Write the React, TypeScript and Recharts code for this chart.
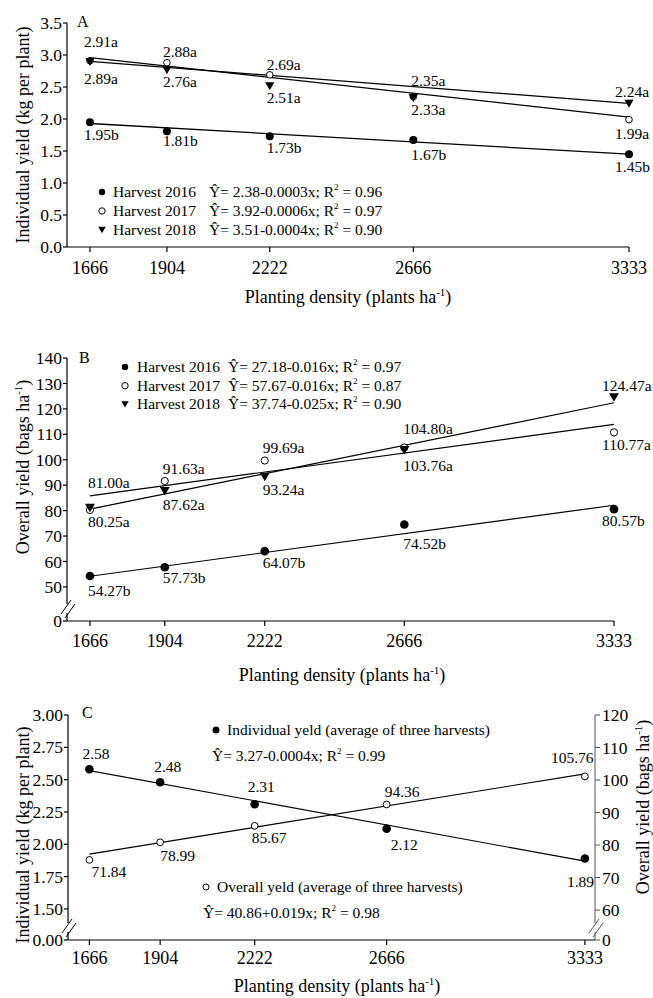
import React from 'react';
import { ComposedChart, Line, XAxis, YAxis, Legend, LabelList, Label } from 'recharts';

const SERIF = '"Liberation Serif", "Times New Roman", serif';
const W = 653;

// planting density (plants ha-1)
const density = [1666, 1904, 2222, 2666, 3333];
const fitEnds = [1666, 3333];

// A - individual yield (kg per plant)
const indiv2016 = [1.95, 1.81, 1.73, 1.67, 1.45];
const indiv2017 = [2.91, 2.88, 2.69, 2.35, 1.99];
const indiv2018 = [2.89, 2.76, 2.51, 2.33, 2.24];
const indivFit2016 = [1.93, 1.45];
const indivFit2017 = [2.96, 2.03];
const indivFit2018 = [2.9, 2.245];

// B - overall yield (bags ha-1)
const overall2016 = [54.27, 57.73, 64.07, 74.52, 80.57];
const overall2017 = [80.25, 91.63, 99.69, 104.8, 110.77];
const overall2018 = [81.0, 87.62, 93.24, 103.76, 124.47];
const overallFit2016 = [54.2, 82.1];
const overallFit2017 = [85.8, 113.9];
const overallFit2018 = [80.6, 122.4];

// C - average of three harvests
const indivMean = [2.58, 2.48, 2.31, 2.12, 1.89];
const overallMean = [71.84, 78.99, 85.67, 94.36, 105.76];
const indivMeanFit = [2.57, 1.87];
const overallMeanFit = [74.2, 106.8];

const harvests = ['Harvest 2016', 'Harvest 2017', 'Harvest 2018'];
const eqA = ['Ŷ= 2.38-0.0003x; R', 'Ŷ= 3.92-0.0006x; R', 'Ŷ= 3.51-0.0004x; R'];
const r2A = ['0.96', '0.97', '0.90'];
const eqB = ['Ŷ= 27.18-0.016x; R', 'Ŷ= 57.67-0.016x; R', 'Ŷ= 37.74-0.025x; R'];
const r2B = ['0.97', '0.87', '0.90'];
const meanNames = ['Individual yeld (average of three harvests)', 'Overall yeld (average of three harvests)'];
const eqC = ['Ŷ= 3.27-0.0004x; R', 'Ŷ= 40.86+0.019x; R'];
const r2C = ['0.99', '0.98'];

// tick values; the lowest one sits under the axis break and reads as 0
const ticksA = [0, 0.5, 1, 1.5, 2, 2.5, 3, 3.5];
const breakB = 36.6;
const ticksB = [breakB, 50, 60, 70, 80, 90, 100, 110, 120, 130, 140];
const breakCL = 1.26;
const ticksCL = [breakCL, 1.5, 1.75, 2, 2.25, 2.5, 2.75, 3];
const breakCR = 50.8;
const ticksCR = [breakCR, 60, 70, 80, 90, 100, 110, 120];

const toPoints = (xs: number[], ys: number[]) => xs.map((x, i) => ({ x, y: ys[i] }));

type Kind = 'filled' | 'open' | 'tri';
const kinds: Kind[] = ['filled', 'open', 'tri'];

function Marker({ kind, cx, cy, r }: { kind: Kind; cx: number; cy: number; r: number }) {
  if (kind === 'filled') return <circle cx={cx} cy={cy} r={r} fill="#000" />;
  if (kind === 'open') return <circle cx={cx} cy={cy} r={r} fill="#fff" stroke="#000" strokeWidth={1} />;
  return <polygon points={`${cx - r * 1.15},${cy - r} ${cx + r * 1.15},${cy - r} ${cx},${cy + r}`} fill="#000" />;
}

const dotFor = (kind: Kind, r: number) => (p: any) =>
  p.cx == null ? <g key={p.index} /> : <Marker key={p.index} kind={kind} cx={p.cx} cy={p.cy} r={r} />;

const labelFor = (values: number[], suffix: string, dx: number[], dy: number[]) => (p: any) => {
  const i = p.index ?? values.indexOf(Number(p.value));
  const x = p.x ?? p.viewBox?.x;
  const y = p.y ?? p.viewBox?.y;
  if (x == null || i < 0) return null;
  return (
    <text key={i} x={x + dx[i]} y={y + dy[i]} fontFamily={SERIF} fontSize={15.5} fill="#000">
      {Number(p.value).toFixed(2)}
      {suffix}
    </text>
  );
};

function AxisTick(props: any) {
  const { x, y, payload, side, breakAt, breakLabel, digits, gap, lineColor } = props;
  const v = Number(payload.value);
  const isBreak = breakAt != null && Math.abs(v - breakAt) < 1e-9;
  const label = isBreak ? breakLabel : v.toFixed(digits);
  const ax = side === 'left' ? x + gap : x - gap;
  return (
    <g>
      {isBreak && (
        <g>
          <rect x={ax - 2} y={y - 17} width={4} height={9} fill="#fff" />
          <line x1={ax - 6} y1={y - 7} x2={ax + 4} y2={y - 21} stroke={lineColor} strokeWidth={1} />
          <line x1={ax - 2} y1={y - 3} x2={ax + 8} y2={y - 17} stroke={lineColor} strokeWidth={1} />
        </g>
      )}
      <text x={x} y={y} dy="0.35em" textAnchor={side === 'left' ? 'end' : 'start'} fontFamily={SERIF} fontSize={17.5} fill="#000">
        {label}
      </text>
    </g>
  );
}

const xTitle = (cx: number, base: number) => () => (
  <text x={cx} y={base} textAnchor="middle" fontFamily={SERIF} fontSize={18} fill="#000">
    Planting density (plants ha<tspan fontSize={11} dy={-7}>-1</tspan>
    <tspan dy={7}>)</tspan>
  </text>
);

const yTitle = (cx: number, cy: number, text: string, sup?: string) => () => (
  <text transform={`rotate(-90 ${cx} ${cy})`} x={cx} y={cy} dy="0.35em" textAnchor="middle" fontFamily={SERIF} fontSize={18} fill="#000">
    {text}
    {sup && (
      <>
        <tspan fontSize={11} dy={-7}>{sup}</tspan>
        <tspan dy={7}>)</tspan>
      </>
    )}
  </text>
);

const axisStyle = { stroke: '#000', strokeWidth: 1.2 };
const xTick = { fontSize: 18, fontFamily: SERIF, fill: '#000' };

function EqText({ x, y, eq, r2, size }: { x: number; y: number; eq: string; r2: string; size: number }) {
  return (
    <text x={x} y={y} fontFamily={SERIF} fontSize={size} fill="#000">
      {eq}
      <tspan fontSize={9} dy={-7}>2</tspan>
      <tspan dy={7}> = {r2}</tspan>
    </text>
  );
}

const legendWrap = (h: number) => ({ left: 0, top: 0, width: W, height: h, pointerEvents: 'none' as const });

function PanelA() {
  const H = 310;
  const series = [
    { v: indiv2016, fit: indivFit2016, s: 'b', r: 4, dy: [18, 15, 17, 20, 18] },
    { v: indiv2017, fit: indivFit2017, s: 'a', r: 3.3, dy: [-14, -6, -5, -11, 19] },
    { v: indiv2018, fit: indivFit2018, s: 'a', r: 4, dy: [22, 17, 17, 17, -7] },
  ];
  const dx = [-6, -4, -3, -2, -14];
  return (
    <ComposedChart width={W} height={H} margin={{ top: 23, right: 24, bottom: 0, left: 0 }}>
      <XAxis dataKey="x" type="number" domain={[1595, 3333]} ticks={density} interval={0} height={63}
        tickSize={5} tickMargin={9} tick={xTick} axisLine={axisStyle} tickLine={axisStyle}>
        <Label content={xTitle(348, 303)} />
      </XAxis>
      <YAxis type="number" domain={[0, 3.5]} ticks={ticksA} interval={0} width={67} tickSize={4} tickMargin={1}
        axisLine={axisStyle} tickLine={axisStyle}
        tick={(p: any) => <AxisTick {...p} side="left" digits={1} gap={5} lineColor="#000" />}>
        <Label content={yTitle(23, 135, 'Individual yield (kg per plant)')} />
      </YAxis>
      {series.map((s, k) => (
        <Line key={`f${k}`} data={toPoints(fitEnds, s.fit)} dataKey="y" stroke="#000" strokeWidth={1.3}
          dot={false} activeDot={false} isAnimationActive={false} legendType="none" />
      ))}
      {series.map((s, k) => (
        <Line key={`p${k}`} data={toPoints(density, s.v)} dataKey="y" stroke="none" dot={dotFor(kinds[k], s.r)}
          activeDot={false} isAnimationActive={false} legendType="none">
          <LabelList dataKey="y" content={labelFor(s.v, s.s, dx, s.dy)} />
        </Line>
      ))}
      <Legend layout="vertical" align="center" verticalAlign="middle" wrapperStyle={legendWrap(H)}
        content={() => (
          <svg width={W} height={H} style={{ position: 'absolute', left: 0, top: 0 }}>
            <text x={77} y={27} fontFamily={SERIF} fontSize={16} fill="#000">A</text>
            {harvests.map((h, i) => {
              const yb = 197 + i * 19;
              return (
                <g key={h}>
                  <Marker kind={kinds[i]} cx={102} cy={yb - 5} r={3.2} />
                  <text x={113} y={yb} fontFamily={SERIF} fontSize={15.5} fill="#000">{h}</text>
                  <EqText x={209} y={yb} eq={eqA[i]} r2={r2A[i]} size={15.5} />
                </g>
              );
            })}
          </svg>
        )} />
    </ComposedChart>
  );
}

function PanelB() {
  const H = 380;
  const series = [
    { v: overall2016, fit: overallFit2016, s: 'b', r: 4.3, dy: [20, 16, 17, 24, 17] },
    { v: overall2017, fit: overallFit2017, s: 'a', r: 3.6, dy: [17, -7, -8, -14, 18] },
    { v: overall2018, fit: overallFit2018, s: 'a', r: 4.3, dy: [-20, 19, 18, 21, -7] },
  ];
  const dx = [-2, -2, -2, -1, -12];
  return (
    <ComposedChart width={W} height={H} margin={{ top: 48, right: 39, bottom: 0, left: 0 }}>
      <XAxis dataKey="x" type="number" domain={[1593, 3333]} ticks={density} interval={0} height={69}
        tickSize={5} tickMargin={8} tick={xTick} axisLine={axisStyle} tickLine={axisStyle}>
        <Label content={xTitle(342, 371)} />
      </XAxis>
      <YAxis type="number" domain={[breakB, 140]} ticks={ticksB} interval={0} width={67} tickSize={4} tickMargin={1}
        axisLine={axisStyle} tickLine={axisStyle}
        tick={(p: any) => <AxisTick {...p} side="left" digits={0} gap={5} breakAt={breakB} breakLabel="0" lineColor="#000" />}>
        <Label content={yTitle(23, 157, 'Overall yield (bags ha', '-1')} />
      </YAxis>
      {series.map((s, k) => (
        <Line key={`f${k}`} data={toPoints(fitEnds, s.fit)} dataKey="y" stroke="#000" strokeWidth={1.2}
          dot={false} activeDot={false} isAnimationActive={false} legendType="none" />
      ))}
      {series.map((s, k) => (
        <Line key={`p${k}`} data={toPoints(density, s.v)} dataKey="y" stroke="none" dot={dotFor(kinds[k], s.r)}
          activeDot={false} isAnimationActive={false} legendType="none">
          <LabelList dataKey="y" content={labelFor(s.v, s.s, dx, s.dy)} />
        </Line>
      ))}
      <Legend layout="vertical" align="center" verticalAlign="middle" wrapperStyle={legendWrap(H)}
        content={() => (
          <svg width={W} height={H} style={{ position: 'absolute', left: 0, top: 0 }}>
            <text x={79} y={53} fontFamily={SERIF} fontSize={16} fill="#000">B</text>
            {harvests.map((h, i) => {
              const yb = 62 + i * 18.7;
              return (
                <g key={h}>
                  <Marker kind={kinds[i]} cx={125} cy={yb - 5} r={3.2} />
                  <text x={137} y={yb} fontFamily={SERIF} fontSize={15.5} fill="#000">{h}</text>
                  <EqText x={228} y={yb} eq={eqB[i]} r2={r2B[i]} size={15.5} />
                </g>
              );
            })}
          </svg>
        )} />
    </ComposedChart>
  );
}

function PanelC() {
  const H = 308;
  return (
    <ComposedChart width={W} height={H} margin={{ top: 25, right: 0, bottom: 0, left: 0 }}>
      <XAxis dataKey="x" type="number" domain={[1594, 3367]} ticks={density} interval={0} height={58}
        tickSize={5} tickMargin={6} tick={xTick} axisLine={axisStyle} tickLine={axisStyle}>
        <Label content={xTitle(337, 302)} />
      </XAxis>
      <YAxis yAxisId="ind" type="number" domain={[breakCL, 3]} ticks={ticksCL} interval={0} width={68} tickSize={4} tickMargin={1}
        axisLine={axisStyle} tickLine={axisStyle}
        tick={(p: any) => <AxisTick {...p} side="left" digits={2} gap={5} breakAt={breakCL} breakLabel="0.00" lineColor="#000" />}>
        <Label content={yTitle(23, 145, 'Individual yield (kg per plant)')} />
      </YAxis>
      <YAxis yAxisId="ovr" orientation="right" type="number" domain={[breakCR, 120]} ticks={ticksCR} interval={0} width={58}
        tickSize={5} tickMargin={2} allowDataOverflow axisLine={{ stroke: '#555', strokeWidth: 1 }} tickLine={{ stroke: '#555', strokeWidth: 1 }}
        tick={(p: any) => <AxisTick {...p} side="right" digits={0} gap={7} breakAt={breakCR} breakLabel="0" lineColor="#555" />}>
        <Label content={yTitle(643, 117, 'Overall yield (bags ha', '-1')} />
      </YAxis>
      <YAxis yAxisId="ovrPlot" orientation="right" type="number" domain={[39.3, 130.7]} hide />
      <Line yAxisId="ind" data={toPoints(fitEnds, indivMeanFit)} dataKey="y" stroke="#000" strokeWidth={1.1}
        dot={false} activeDot={false} isAnimationActive={false} legendType="none" />
      <Line yAxisId="ovrPlot" data={toPoints(fitEnds, overallMeanFit)} dataKey="y" stroke="#000" strokeWidth={1.1}
        dot={false} activeDot={false} isAnimationActive={false} legendType="none" />
      <Line yAxisId="ind" data={toPoints(density, indivMean)} dataKey="y" stroke="none" dot={dotFor('filled', 4.3)}
        activeDot={false} isAnimationActive={false} legendType="none">
        <LabelList dataKey="y" content={labelFor(indivMean, '', [-7, -6, -7, 4, -18], [-10, -10, -12, 21, 28])} />
      </Line>
      <Line yAxisId="ovrPlot" data={toPoints(density, overallMean)} dataKey="y" stroke="none" dot={dotFor('open', 3.4)}
        activeDot={false} isAnimationActive={false} legendType="none">
        <LabelList dataKey="y" content={labelFor(overallMean, '', [2, 0, -3, -2, -34], [17, 19, 17, -7, -13])} />
      </Line>
      <Legend layout="vertical" align="center" verticalAlign="middle" wrapperStyle={legendWrap(H)}
        content={() => (
          <svg width={W} height={H} style={{ position: 'absolute', left: 0, top: 0 }}>
            <text x={82} y={28} fontFamily={SERIF} fontSize={16} fill="#000">C</text>
            <Marker kind="filled" cx={216} cy={40} r={3.5} />
            <text x={227} y={45} fontFamily={SERIF} fontSize={15.5} fill="#000">{meanNames[0]}</text>
            <EqText x={212} y={71} eq={eqC[0]} r2={r2C[0]} size={15.5} />
            <Marker kind="open" cx={206} cy={197} r={3} />
            <text x={217} y={202} fontFamily={SERIF} fontSize={15.5} fill="#000">{meanNames[1]}</text>
            <EqText x={203} y={228} eq={eqC[1]} r2={r2C[1]} size={15.5} />
          </svg>
        )} />
    </ComposedChart>
  );
}

export default function App() {
  return (
    <div style={{ position: 'relative', width: W, height: 998, background: '#fff', overflow: 'hidden' }}>
      <style>{'body{margin:0}'}</style>
      <div style={{ position: 'absolute', left: 0, top: 0 }}>
        <PanelA />
      </div>
      <div style={{ position: 'absolute', left: 0, top: 310 }}>
        <PanelB />
      </div>
      <div style={{ position: 'absolute', left: 0, top: 690 }}>
        <PanelC />
      </div>
    </div>
  );
}
